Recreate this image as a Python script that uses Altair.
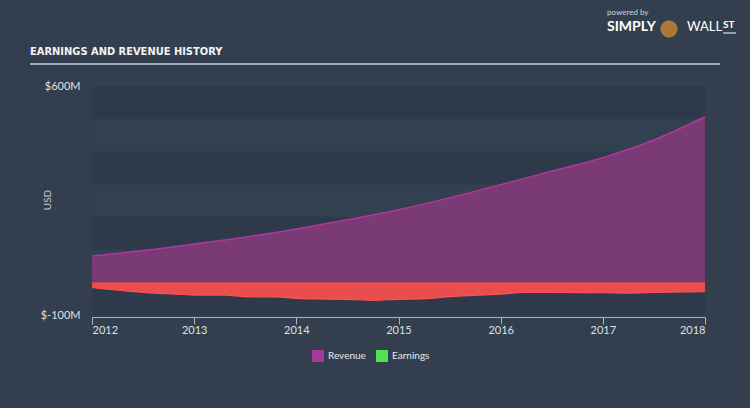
import altair as alt
import pandas as pd

# Revenue (USD millions)
rev_t = [2012.0, 2012.5, 2013.0, 2013.5, 2014.0, 2014.5, 2015.0, 2015.5, 2016.0, 2016.5, 2017.0, 2017.5, 2018.0]
rev_v = [80, 97, 117, 138, 163, 191, 222, 258, 298, 340, 381, 435, 506]

# Earnings (USD millions)
earn_t = [2012.0, 2012.5, 2012.75, 2013.0, 2013.3, 2013.5, 2013.8, 2014.0, 2014.2, 2014.5, 2014.75,
          2015.0, 2015.25, 2015.5, 2016.0, 2016.25, 2016.5, 2017.0, 2017.25, 2017.5, 2018.0]
earn_v = [-16, -31, -35, -39, -39, -44, -45, -49, -51, -52, -55,
          -52, -50, -44, -36, -31, -31, -32, -33, -31, -29]

bands_lo = [-100, 0, 100, 200, 300, 400, 500]
bands_shade = ["d", "l", "d", "l", "d", "l", "d"]
year_ticks = [2012, 2013, 2014, 2015, 2016, 2017, 2018]
series_names = ["Revenue", "Earnings"]

BG = "#333f4f"
FONT = "Lato"

rev_df = pd.DataFrame({"t": rev_t, "v": rev_v})
earn_df = pd.DataFrame({"t": earn_t, "v": earn_v})
band_df = pd.DataFrame({"lo": bands_lo, "hi": [b + 100 for b in bands_lo], "shade": bands_shade})
leg_df = pd.DataFrame({"series": series_names, "t": [2012, 2012], "v": [0, 0]})

xs = alt.Scale(domain=[2012, 2018], nice=False, zero=False)
ys = alt.Scale(domain=[-100, 600], nice=False)

x_axis = alt.Axis(values=year_ticks, format="d", labelColor="#dde0e4", labelFont=FONT, labelFontSize=11,
                  domainColor="#aab3bd", tickColor="#aab3bd", tickSize=7, labelPadding=0,
                  grid=False, offset=2)
y_axis = alt.Axis(values=[-100, 600], labelExpr="'$' + datum.value + 'M'", grid=False, domain=False,
                  ticks=False, labelColor="#dde0e4", labelFont=FONT, labelFontSize=11, labelPadding=12)

bands = alt.Chart(band_df).mark_rect().encode(
    x=alt.value(0), x2=alt.value(613),
    y=alt.Y("lo:Q", scale=ys, axis=y_axis, title=None), y2="hi:Q",
    fill=alt.Fill("shade:N", scale=alt.Scale(domain=["d", "l"], range=["#2e3a49", "#334050"]), legend=None),
)

rev = alt.Chart(rev_df).mark_area(interpolate="monotone", color="#7a3a75", opacity=1,
                                  line={"color": "#b0379f", "strokeWidth": 1.5}).encode(
    x=alt.X("t:Q", scale=xs, title=None, axis=x_axis),
    y=alt.Y("v:Q", scale=ys, stack=None),
)

earn = alt.Chart(earn_df).mark_area(interpolate="monotone", color="#e94e4f", opacity=1,
                                    line={"color": "#ff5152", "strokeWidth": 1.2}).encode(
    x=alt.X("t:Q", scale=xs),
    y=alt.Y("v:Q", scale=ys, stack=None),
)

legend = alt.Legend(orient="none", legendX=220, legendY=264, direction="horizontal", title=None,
                    symbolType="square", symbolSize=144, symbolStrokeWidth=0, labelColor="#e8eaee",
                    labelFont=FONT, labelFontSize=10, columnPadding=10, symbolOpacity=1)
leg = alt.Chart(leg_df).mark_square(opacity=0, size=1).encode(
    x=alt.X("t:Q", scale=xs),
    y=alt.Y("v:Q", scale=ys),
    color=alt.Color("series:N", scale=alt.Scale(domain=series_names, range=["#a43b9c", "#4fe24f"]), legend=legend),
)

one = pd.DataFrame({"a": [1]})

usd = alt.Chart(one).mark_text(
    text="USD", angle=270, align="center", baseline="middle", font=FONT, fontSize=10, color="#c9ced4"
).encode(x=alt.value(-44), y=alt.value(114))

title_txt = alt.Chart(one).mark_text(
    text="EARNINGS AND REVENUE HISTORY", align="left", baseline="middle", font="DejaVu Sans Condensed",
    fontWeight="bold", fontSize=11, color="#f2f4f6"
).encode(x=alt.value(-62), y=alt.value(-34))

title_rule = alt.Chart(one).mark_rule(color="#c5ccd4", strokeWidth=1.5).encode(
    x=alt.value(-62), x2=alt.value(628), y=alt.value(-22))

powered = alt.Chart(one).mark_text(
    text="powered by", align="left", baseline="middle", font=FONT, fontSize=8, color="#d0d4da"
).encode(x=alt.value(515), y=alt.value(-73))
simply = alt.Chart(one).mark_text(
    text="SIMPLY", align="left", baseline="middle", font=FONT, fontWeight="bold", fontSize=14, color="#ffffff"
).encode(x=alt.value(515), y=alt.value(-59))
wall = alt.Chart(one).mark_text(
    text="WALL", align="left", baseline="middle", font=FONT, fontWeight="normal", fontSize=13, color="#ffffff"
).encode(x=alt.value(595), y=alt.value(-59))
st = alt.Chart(one).mark_text(
    text="ST", align="left", baseline="middle", font=FONT, fontWeight="bold", fontSize=10, color="#ffffff"
).encode(x=alt.value(631), y=alt.value(-61))
st_rule = alt.Chart(one).mark_rule(color="#ffffff", strokeWidth=1).encode(
    x=alt.value(631), x2=alt.value(644), y=alt.value(-53))
logo = alt.Chart(one).mark_circle(size=300, color="#a9773a", opacity=1).encode(
    x=alt.value(577), y=alt.value(-57))

chart = alt.layer(bands, rev, earn, leg, usd, title_txt, title_rule, powered, simply, wall, st, st_rule, logo).properties(
    width=613, height=229, background=BG,
    padding={"left": 92, "top": 86, "right": 45, "bottom": 93},
    autosize=alt.AutoSizeParams(type="none"),
).configure_view(stroke=None)

chart.save("out.html", embed_options={"renderer": "svg", "actions": False})
